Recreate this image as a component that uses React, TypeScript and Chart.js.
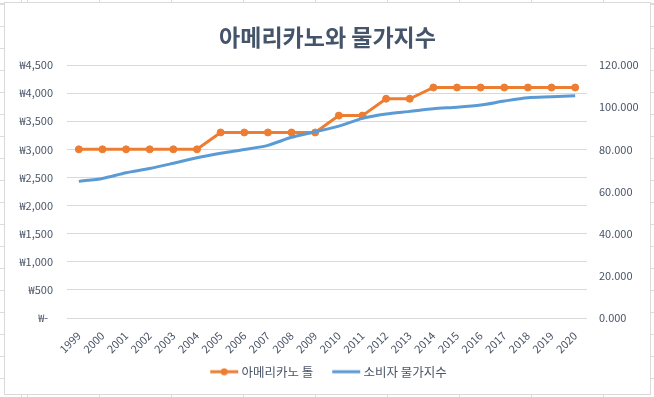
import React, { useEffect, useRef } from "react";
import { Chart, registerables } from "chart.js";

Chart.register(...registerables);

const chartTitle = "아메리카노와 물가지수";
const years = [
  "1999", "2000", "2001", "2002", "2003", "2004", "2005", "2006", "2007", "2008", "2009",
  "2010", "2011", "2012", "2013", "2014", "2015", "2016", "2017", "2018", "2019", "2020",
];
const americanoLabel = "아메리카노 톨";
const americanoTall = [
  3000, 3000, 3000, 3000, 3000, 3000, 3300, 3300, 3300, 3300, 3300,
  3600, 3600, 3900, 3900, 4100, 4100, 4100, 4100, 4100, 4100, 4100,
];
const cpiLabel = "소비자 물가지수";
const cpi = [
  64.8, 66.2, 68.9, 70.9, 73.4, 76.0, 78.1, 79.9, 81.9, 85.7, 88.3,
  91.0, 94.7, 96.8, 98.0, 99.3, 100.0, 101.0, 102.9, 104.5, 104.9, 105.4,
];
const priceAxis = { min: 0, max: 4500, step: 500 };
const indexAxis = { min: 0, max: 120, step: 20 };

const ORANGE = "#ED7D31";
const BLUE = "#5B9BD5";
const TEXT = "#4A5568";
const TITLE = "#44546A";
const GRID = "#D9D9D9";
const FONT = "'Noto Sans CJK KR', 'Noto Sans', sans-serif";

function legendImage(color: string, dot: boolean) {
  const c = document.createElement("canvas");
  c.width = 60;
  c.height = 8;
  const ctx = c.getContext("2d")!;
  ctx.strokeStyle = color;
  ctx.lineWidth = 3;
  ctx.beginPath();
  ctx.moveTo(24, 4);
  ctx.lineTo(52, 4);
  ctx.stroke();
  if (dot) {
    ctx.fillStyle = color;
    ctx.beginPath();
    ctx.arc(38, 4, 3.5, 0, Math.PI * 2);
    ctx.fill();
  }
  return c;
}

const legendShift = {
  id: "legendShift",
  afterLayout(chart: any) {
    const lg = chart.legend;
    if (lg) {
      lg.left -= 5.5;
      lg.right -= 5.5;
    }
  },
};

export default function App() {
  const ref = useRef<HTMLCanvasElement | null>(null);

  useEffect(() => {
    if (!ref.current) return;
    const imgs = [legendImage(ORANGE, true), legendImage(BLUE, false)];
    const chart = new Chart(ref.current, {
      type: "line",
      data: {
        labels: years,
        datasets: [
          {
            label: americanoLabel,
            data: americanoTall,
            yAxisID: "y",
            borderColor: ORANGE,
            backgroundColor: ORANGE,
            borderWidth: 3,
            pointRadius: 3.5,
            pointBorderWidth: 1,
            pointBackgroundColor: ORANGE,
            pointBorderColor: ORANGE,
            tension: 0,
            order: 1,
          },
          {
            label: cpiLabel,
            data: cpi,
            yAxisID: "y1",
            borderColor: BLUE,
            backgroundColor: BLUE,
            borderWidth: 3,
            pointRadius: 0,
            tension: 0.25,
            order: 0,
          },
        ],
      },
      plugins: [legendShift],
      options: {
        responsive: false,
        animation: false,
        devicePixelRatio: 1,
        layout: { padding: { left: 0, right: 0, top: 0, bottom: 6 } },
        plugins: {
          title: {
            display: true,
            text: chartTitle,
            color: TITLE,
            font: { family: FONT, size: 23, weight: "bold" },
            padding: { top: 20.7, bottom: 13.7 },
          },
          legend: {
            display: true,
            position: "bottom",
            labels: {
              usePointStyle: true,
              pointStyleWidth: 38,
              padding: 6,
              color: TEXT,
              font: { family: FONT, size: 12.5 },
              generateLabels: (c: any) => {
                const items = Chart.defaults.plugins.legend.labels.generateLabels(c);
                items.forEach((it: any) => {
                  it.pointStyle = imgs[it.datasetIndex];
                });
                return items;
              },
              sort: (a: any, b: any) => a.datasetIndex - b.datasetIndex,
            },
          },
          tooltip: { enabled: false },
        },
        scales: {
          x: {
            type: "category",
            offset: true,
            grid: { display: false },
            border: { display: false },
            ticks: {
              autoSkip: false,
              minRotation: 45,
              maxRotation: 45,
              padding: 3,
              color: TEXT,
              font: { family: FONT, size: 11 },
            },
            afterFit: (s: any) => {
              s.height = 41.5;
            },
          },
          y: {
            position: "left",
            min: priceAxis.min,
            max: priceAxis.max,
            grid: { color: GRID, lineWidth: 1, drawTicks: false },
            border: { display: false },
            ticks: {
              stepSize: priceAxis.step,
              padding: 14,
              color: TEXT,
              font: { family: FONT, size: 11 },
              callback: (v: any) => (Number(v) === 0 ? "₩-  " : "₩" + Number(v).toLocaleString("en-US")),
            },
            afterFit: (s: any) => {
              s.width = 62;
            },
          },
          y1: {
            position: "right",
            min: indexAxis.min,
            max: indexAxis.max,
            grid: { display: false, drawTicks: false },
            border: { display: false },
            ticks: {
              stepSize: indexAxis.step,
              padding: 12,
              color: TEXT,
              font: { family: FONT, size: 11 },
              callback: (v: any) => Number(v).toFixed(3),
            },
            afterFit: (s: any) => {
              s.width = 63;
            },
          },
        },
      },
    } as any);
    return () => chart.destroy();
  }, []);

  return (
    <div
      style={{
        position: "fixed",
        left: 0,
        top: 0,
        width: 654,
        height: 397,
        background: "#fff",
        backgroundImage:
          "repeating-linear-gradient(to right, #dcdcdc 0px, #dcdcdc 1px, transparent 1px, transparent 72px), repeating-linear-gradient(to bottom, #dcdcdc 0px, #dcdcdc 1px, transparent 1px, transparent 22px)",
        backgroundPosition: "27px 0px, 0px 4px",
        overflow: "hidden",
      }}
    >
      <div
        style={{
          position: "absolute",
          left: 4,
          top: 2,
          width: 647,
          height: 393,
          boxSizing: "border-box",
          border: "1px solid #d9d9d9",
          background: "#fff",
        }}
      >
        <canvas ref={ref} width={645} height={391} style={{ display: "block" }} />
      </div>
    </div>
  );
}
